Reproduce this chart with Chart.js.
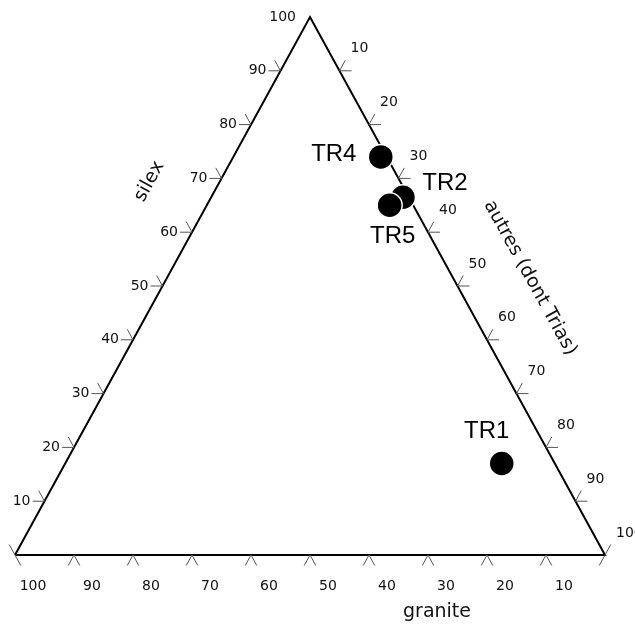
<!DOCTYPE html>
<html>
<head>
<meta charset="utf-8">
<script src="https://cdn.jsdelivr.net/npm/chart.js@4/dist/chart.umd.min.js"></script>
<style>
  html, body { margin: 0; padding: 0; background: #fff; }
  canvas { display: block; }
</style>
</head>
<body>
<canvas id="ternary" width="635" height="627"></canvas>
<script>
// samples (percent)
const samples = ['TR1', 'TR2', 'TR4', 'TR5'];
const granite = [9, 1, 1, 4];
const silex = [17, 66.5, 74, 65];
const autres = [74, 32.5, 25, 31];

// tick values on each side
const silexTicks = [10, 20, 30, 40, 50, 60, 70, 80, 90, 100];
const autresTicks = [10, 20, 30, 40, 50, 60, 70, 80, 90, 100];
const graniteTicks = [10, 20, 30, 40, 50, 60, 70, 80, 90, 100];

const axisTitles = { granite: 'granite', silex: 'silex', autres: 'autres (dont Trias)' };

// label placement relative to the point, pixels
const labelOffsets = { TR1: [-15, -32], TR2: [42, -14], TR4: [-47, -3], TR5: [3, 31] };

// ternary -> cartesian (x 0..100 along base, y 0..100 height)
function toXY(g, s, a) {
    const t = g + s + a;
    return { x: (50 * s + 100 * a) / t, y: 100 * s / t };
}

const points = samples.map((name, i) => toXY(granite[i], silex[i], autres[i]));
const corners = [toXY(100, 0, 0), toXY(0, 0, 100), toXY(0, 100, 0), toXY(100, 0, 0)];

const TICK = 12;
const tickFont = '14px "DejaVu Sans"';

const ternaryPlugin = {
    id: 'ternary',
    afterDatasetsDraw(chart) {
        const ctx = chart.ctx;
        const xs = chart.scales.x, ys = chart.scales.y;
        const px = (g, s, a) => {
            const p = toXY(g, s, a);
            return { x: xs.getPixelForValue(p.x), y: ys.getPixelForValue(p.y) };
        };
        const A = px(100, 0, 0), B = px(0, 0, 100), C = px(0, 100, 0);
        const norm = (v) => { const l = Math.hypot(v.x, v.y); return { x: v.x / l, y: v.y / l }; };
        const dL = norm({ x: A.x - C.x, y: A.y - C.y }); // down-left
        const dR = norm({ x: B.x - C.x, y: B.y - C.y }); // down-right

        const leg = (p, dx, dy) => {
            ctx.moveTo(p.x, p.y);
            ctx.lineTo(p.x + dx, p.y + dy);
        };

        ctx.save();
        ctx.strokeStyle = '#555';
        ctx.lineWidth = 1;
        ctx.beginPath();
        // left side (silex)
        silexTicks.forEach(v => {
            if (v >= 100) return;
            const p = px(100 - v, v, 0);
            leg(p, -TICK, 0);
            leg(p, -dR.x * TICK, -dR.y * TICK);
        });
        leg(A, -dR.x * TICK, -dR.y * TICK);
        // right side (autres)
        autresTicks.forEach(v => {
            if (v >= 100) return;
            const p = px(0, 100 - v, v);
            leg(p, TICK, 0);
            leg(p, -dL.x * TICK, -dL.y * TICK);
        });
        leg(B, -dL.x * TICK, -dL.y * TICK);
        // bottom (granite)
        graniteTicks.forEach(v => {
            if (v >= 100) return;
            const p = px(v, 0, 100 - v);
            leg(p, dL.x * TICK, dL.y * TICK);
            leg(p, dR.x * TICK, dR.y * TICK);
        });
        leg(A, dR.x * TICK, dR.y * TICK);
        leg(B, dL.x * TICK, dL.y * TICK);
        ctx.stroke();

        // tick labels
        ctx.fillStyle = '#111';
        ctx.font = tickFont;
        ctx.textBaseline = 'middle';
        ctx.textAlign = 'right';
        silexTicks.forEach(v => {
            const p = px(100 - v, v, 0);
            ctx.fillText(String(v), p.x - 14, p.y);
        });
        ctx.textAlign = 'left';
        autresTicks.forEach(v => {
            const p = px(0, 100 - v, v);
            ctx.fillText(String(v), p.x + 11, p.y - 22);
        });
        ctx.textAlign = 'center';
        graniteTicks.forEach(v => {
            const p = px(v, 0, 100 - v);
            ctx.fillText(String(v), p.x + 18, p.y + 31);
        });

        // axis titles
        ctx.font = '19px "DejaVu Sans"';
        ctx.fillText(axisTitles.granite, (A.x + B.x) / 2 + 127, A.y + 57);

        const angL = Math.atan2(C.y - A.y, C.x - A.x);
        let m = px(30, 70, 0);
        ctx.save();
        ctx.translate(m.x - 72, m.y + 3);
        ctx.rotate(angL);
        ctx.fillText(axisTitles.silex, 0, 0);
        ctx.restore();

        const angR = Math.atan2(B.y - C.y, B.x - C.x);
        m = px(0, 51.5, 48.5);
        ctx.save();
        ctx.translate(m.x + 77, m.y);
        ctx.rotate(angR);
        ctx.fillText(axisTitles.autres, 0, 0);
        ctx.restore();

        // sample labels
        ctx.font = '24px "Liberation Sans"';
        ctx.fillStyle = '#000';
        samples.forEach((name, i) => {
            const p = points[i];
            const off = labelOffsets[name];
            ctx.fillText(name, xs.getPixelForValue(p.x) + off[0], ys.getPixelForValue(p.y) + off[1]);
        });
        ctx.restore();
    }
};

new Chart(document.getElementById('ternary'), {
    type: 'scatter',
    data: {
        datasets: [{
            label: 'samples',
            data: points,
            backgroundColor: '#000',
            borderColor: '#fff',
            borderWidth: 1.5,
            pointRadius: 12.5,
            clip: false,
            order: 0
        }, {
            label: 'triangle',
            data: corners,
            showLine: true,
            borderColor: '#000',
            borderWidth: 2,
            pointRadius: 0,
            clip: false,
            order: 1
        }]
    },
    options: {
        responsive: false,
        animation: false,
        layout: { padding: { left: 15, right: 30, top: 17, bottom: 72 } },
        scales: {
            x: { type: 'linear', min: 0, max: 100, display: false },
            y: { type: 'linear', min: 0, max: 100, display: false }
        },
        plugins: {
            legend: { display: false },
            tooltip: { enabled: false }
        }
    },
    plugins: [ternaryPlugin]
});
</script>
</body>
</html>
